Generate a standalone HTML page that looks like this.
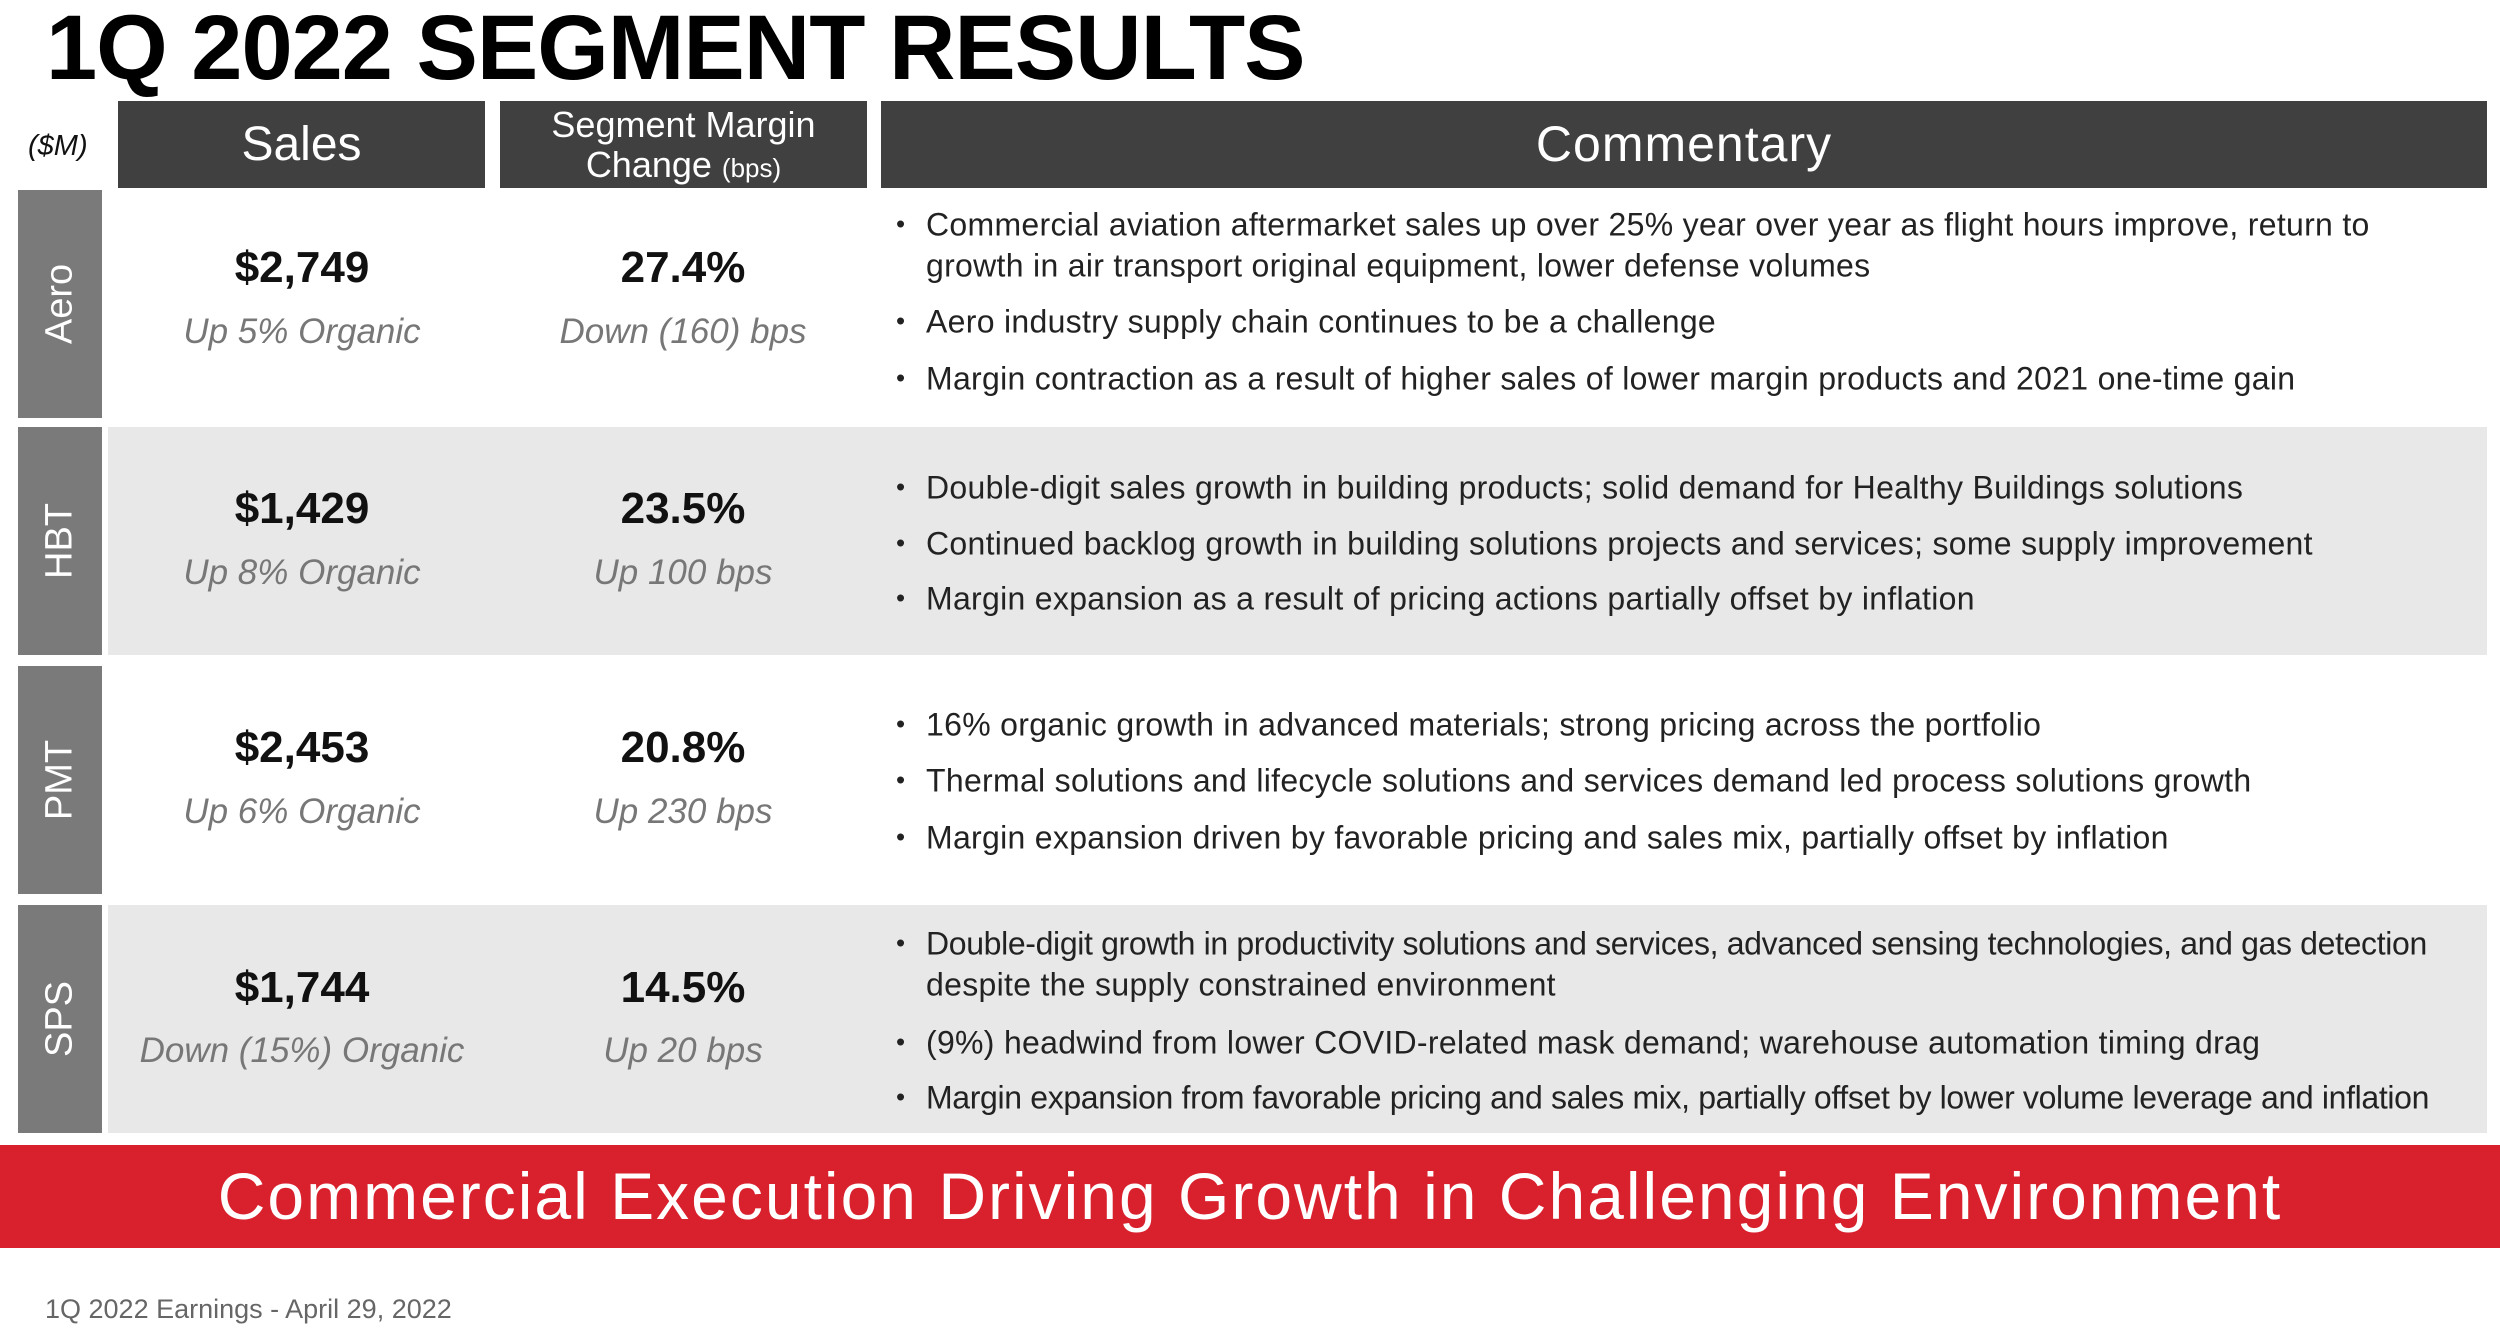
<!DOCTYPE html>
<html><head><meta charset="utf-8"><style>
body{margin:0;width:2500px;height:1331px;background:#fff;position:relative;overflow:hidden;font-family:"Liberation Sans",sans-serif}
div{position:absolute;box-sizing:border-box}
.hdr{background:#404040;color:#fff;text-align:center;top:101px;height:87px}
.lab{background:#7a7a7a;left:18px;width:84px;color:#fff}
.lab span{position:absolute;left:50%;top:50%;transform:translate(-50%,-50%) rotate(-90deg);font-size:38px;white-space:nowrap}
.gbg{background:#e8e8e8;left:108px;width:2379px}
.val{font-size:44px;font-weight:bold;color:#111;transform:translate(-50%,-50%);white-space:nowrap}
.sub{font-size:35px;font-style:italic;color:#777;transform:translate(-50%,-50%);white-space:nowrap}
.b,.c{left:926px;font-size:32px;color:#222;transform:translateY(-50%);white-space:nowrap;letter-spacing:0.3px}
.b::before{content:"•";position:absolute;left:-30px;font-size:26px;top:2px}
</style></head><body>
<div style="left:46px;top:-4px;font-size:92px;font-weight:900;color:#000;letter-spacing:-1px">1Q 2022 SEGMENT RESULTS</div>
<div style="left:28px;top:130px;font-size:29px;font-style:italic;color:#111">($M)</div>
<div class="hdr" style="left:118px;width:367px;font-size:48px;line-height:87px">Sales</div>
<div class="hdr" style="left:500px;width:367px;font-size:36px;line-height:40px;padding-top:4px">Segment Margin<br>Change <span style="font-size:26px">(bps)</span></div>
<div class="hdr" style="left:881px;width:1606px;font-size:50px;line-height:87px;letter-spacing:1px">Commentary</div>

<div class="gbg" style="top:427px;height:228px"></div>
<div class="gbg" style="top:905px;height:228px"></div>

<div class="lab" style="top:190px;height:228px"><span>Aero</span></div>
<div class="lab" style="top:427px;height:228px"><span>HBT</span></div>
<div class="lab" style="top:666px;height:228px"><span>PMT</span></div>
<div class="lab" style="top:905px;height:228px"><span>SPS</span></div>

<div class="val" style="left:302px;top:268px">$2,749</div>
<div class="sub" style="left:302px;top:332px">Up 5% Organic</div>
<div class="val" style="left:683px;top:268px">27.4%</div>
<div class="sub" style="left:683px;top:332px">Down (160) bps</div>

<div class="val" style="left:302px;top:509px">$1,429</div>
<div class="sub" style="left:302px;top:573px">Up 8% Organic</div>
<div class="val" style="left:683px;top:509px">23.5%</div>
<div class="sub" style="left:683px;top:573px">Up 100 bps</div>

<div class="val" style="left:302px;top:748px">$2,453</div>
<div class="sub" style="left:302px;top:812px">Up 6% Organic</div>
<div class="val" style="left:683px;top:748px">20.8%</div>
<div class="sub" style="left:683px;top:812px">Up 230 bps</div>

<div class="val" style="left:302px;top:988px">$1,744</div>
<div class="sub" style="left:302px;top:1051px">Down (15%) Organic</div>
<div class="val" style="left:683px;top:988px">14.5%</div>
<div class="sub" style="left:683px;top:1051px">Up 20 bps</div>

<div class="b" style="top:225px">Commercial aviation aftermarket sales up over 25% year over year as flight hours improve, return to</div>
<div class="c" style="top:266px">growth in air transport original equipment, lower defense volumes</div>
<div class="b" style="top:322px">Aero industry supply chain continues to be a challenge</div>
<div class="b" style="top:379px">Margin contraction as a result of higher sales of lower margin products and 2021 one-time gain</div>

<div class="b" style="top:488px">Double-digit sales growth in building products; solid demand for Healthy Buildings solutions</div>
<div class="b" style="top:544px">Continued backlog growth in building solutions projects and services; some supply improvement</div>
<div class="b" style="top:599px">Margin expansion as a result of pricing actions partially offset by inflation</div>

<div class="b" style="top:725px">16% organic growth in advanced materials; strong pricing across the portfolio</div>
<div class="b" style="top:781px">Thermal solutions and lifecycle solutions and services demand led process solutions growth</div>
<div class="b" style="top:838px">Margin expansion driven by favorable pricing and sales mix, partially offset by inflation</div>

<div class="b" style="top:944px;letter-spacing:-0.35px">Double-digit growth in productivity solutions and services, advanced sensing technologies, and gas detection</div>
<div class="c" style="top:985px">despite the supply constrained environment</div>
<div class="b" style="top:1043px">(9%) headwind from lower COVID-related mask demand; warehouse automation timing drag</div>
<div class="b" style="top:1098px;letter-spacing:-0.35px">Margin expansion from favorable pricing and sales mix, partially offset by lower volume leverage and inflation</div>

<div style="left:0;top:1145px;width:2500px;height:103px;background:#d9202d;color:#fff;font-size:66px;letter-spacing:2px;text-align:center;line-height:103px">Commercial Execution Driving Growth in Challenging Environment</div>
<div style="left:45px;top:1294px;font-size:27px;color:#666">1Q 2022 Earnings - April 29, 2022</div>
</body></html>
